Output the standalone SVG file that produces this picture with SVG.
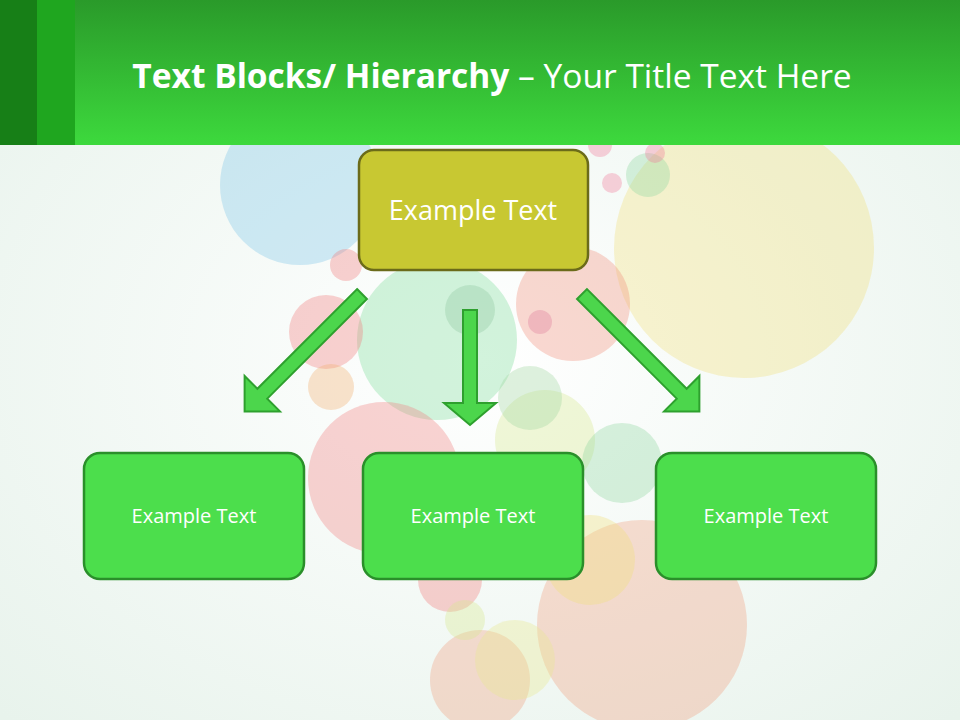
<svg xmlns="http://www.w3.org/2000/svg" width="960" height="720" viewBox="0 0 960 720">
<defs>
<linearGradient id="hdr" x1="0" y1="0" x2="0" y2="1"><stop offset="0" stop-color="#2a9a2a"/><stop offset="1" stop-color="#3dd93d"/></linearGradient>
<radialGradient id="bg" cx="0.5" cy="0.5" r="0.7"><stop offset="0" stop-color="#ffffff"/><stop offset="1" stop-color="#e8f3ec"/></radialGradient>
<style>
.c{opacity:0.35}
.box{fill:#4cde4c;stroke:#2a8f2a;stroke-width:2.5}
.t{font-family:"Open Sans","Liberation Sans",sans-serif;fill:#fff;text-anchor:middle}
.arr{fill:#4cd64c;stroke:#2ea02e;stroke-width:2}
</style>
</defs>
<rect width="960" height="720" fill="url(#bg)"/>
<g id="bubbles">
<circle class="c" cx="300" cy="185" r="80" fill="#7fc6e8"/>
<circle class="c" cx="744" cy="248" r="130" fill="#f2e07a"/>
<circle class="c" cx="437" cy="340" r="80" fill="#7fdc9a"/>
<circle class="c" cx="573" cy="304" r="57" fill="#f0907a"/>
<circle class="c" cx="326" cy="332" r="37" fill="#f07a7a"/>
<circle class="c" cx="331" cy="387" r="23" fill="#f0b070"/>
<circle class="c" cx="384" cy="478" r="76" fill="#f08080"/>
<circle class="c" cx="545" cy="440" r="50" fill="#d8e890"/>
<circle class="c" cx="622" cy="463" r="40" fill="#90d8a0"/>
<circle class="c" cx="642" cy="625" r="105" fill="#f0a080"/>
<circle class="c" cx="590" cy="560" r="45" fill="#f2e07a"/>
<circle class="c" cx="480" cy="680" r="50" fill="#f0a080"/>
<circle class="c" cx="515" cy="660" r="40" fill="#e8e890"/>
<circle class="c" cx="450" cy="580" r="32" fill="#f07a7a"/>
<circle class="c" cx="648" cy="175" r="22" fill="#90d8a0"/>
<circle class="c" cx="612" cy="183" r="10" fill="#f07a9a"/>
<circle class="c" cx="655" cy="153" r="10" fill="#f07a9a"/>
<circle class="c" cx="346" cy="265" r="16" fill="#f07a7a"/>
<circle class="c" cx="470" cy="310" r="25" fill="#90c8a0"/>
<circle class="c" cx="530" cy="398" r="32" fill="#a0d8a0"/>
<circle class="c" cx="540" cy="322" r="12" fill="#e07a9a"/>
<circle class="c" cx="465" cy="620" r="20" fill="#d8e890"/>
<circle class="c" cx="600" cy="145" r="12" fill="#f07a9a"/>
</g>
<g id="header">
<rect x="0" y="0" width="960" height="145" fill="url(#hdr)"/>
<rect x="0" y="0" width="37" height="145" fill="#177f17"/>
<rect x="37" y="0" width="38" height="145" fill="#1fa61f"/>
<text x="492" y="88" font-family="'Open Sans','Liberation Sans',sans-serif" font-size="33.5" fill="#fff" text-anchor="middle"><tspan font-weight="bold">Text Blocks/ Hierarchy</tspan> – Your Title Text Here</text>
</g>
<g id="connectors">
<polygon class="arr" transform="translate(470,310)" points="-7,0 7,0 7,93 26,93 0,115 -26,93 -7,93"/>
<polygon class="arr" transform="translate(362,294) rotate(45)" points="-7,0 7,0 7,141 25,141 0,166 -25,141 -7,141"/>
<polygon class="arr" transform="translate(582,294) rotate(-45)" points="-7,0 7,0 7,141 25,141 0,166 -25,141 -7,141"/>
</g>
<g id="top">
<rect x="359" y="150" width="229" height="120" rx="15" fill="#c8c832" stroke="#6b6b1a" stroke-width="2.5"/>
<text class="t" x="473" y="220" font-size="27">Example Text</text>
</g>
<g id="left">
<rect class="box" x="84" y="453" width="220" height="126" rx="16"/>
<text class="t" x="194" y="523" font-size="20">Example Text</text>
</g>
<g id="mid">
<rect class="box" x="363" y="453" width="220" height="126" rx="16"/>
<text class="t" x="473" y="523" font-size="20">Example Text</text>
</g>
<g id="right">
<rect class="box" x="656" y="453" width="220" height="126" rx="16"/>
<text class="t" x="766" y="523" font-size="20">Example Text</text>
</g>
</svg>
